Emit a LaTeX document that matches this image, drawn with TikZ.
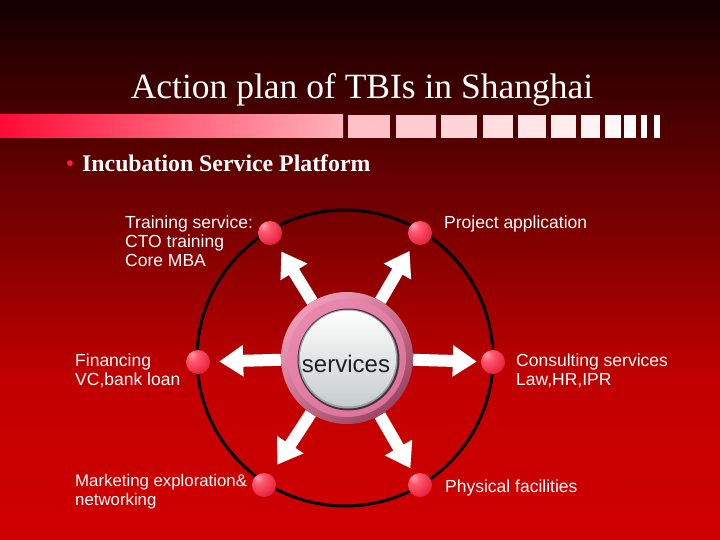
\documentclass[tikz,border=0pt]{standalone}
\usepackage{fontspec}
\setmainfont{Liberation Serif}
\setsansfont{Liberation Sans}
\usetikzlibrary{arrows.meta}
\definecolor{bgtop}{HTML}{140000}
\definecolor{bgmid}{HTML}{C20000}
\definecolor{bgbot}{HTML}{D00000}
\definecolor{barred}{HTML}{FF0A35}
\definecolor{barpink}{HTML}{FFB2BA}
\definecolor{bullred}{HTML}{FF2040}
\definecolor{ringlight}{HTML}{F29CBC}
\definecolor{ringdark}{HTML}{9C4464}
\definecolor{ringmid}{HTML}{DC7399}
\definecolor{ringmidlight}{HTML}{E889AC}
\definecolor{rimdark}{HTML}{4A2E3C}
\definecolor{rimgray}{HTML}{9CA2A2}
\definecolor{innergray}{HTML}{C6CCCC}
\definecolor{txtdark}{HTML}{202020}
\definecolor{ballhi}{HTML}{FFA0AE}
\definecolor{ballmid}{HTML}{FF5870}
\definecolor{balledge}{HTML}{E8223E}
\definecolor{ballrim}{HTML}{D81A34}
\pgfdeclareradialshading{redball}{\pgfpoint{-14bp}{16bp}}{%
  color(0bp)=(ballhi);
  color(12bp)=(ballmid);
  color(36bp)=(balledge);
  color(62bp)=(ballrim);
  color(100bp)=(ballrim)}
\begin{document}
\begin{tikzpicture}[x=1pt,y=-1pt,
  ball/.style={circle, minimum size=24pt, inner sep=0pt, shading=redball},
  lbl/.style={anchor=north west, inner sep=0pt, align=left, text=white,
    font=\sffamily\fontsize{17.5}{19}\selectfont},
  warrow/.style={draw=white, line width=12pt,
    -{Triangle[length=24pt,width=30pt]}}]
\useasboundingbox (0,0) rectangle (720,540);
% background
\shade[top color=bgtop, bottom color=bgmid] (0,0) rectangle (720,381);
\shade[top color=bgmid, bottom color=bgbot] (0,380) rectangle (720,540);
% decorative bar
\shade[left color=barred, right color=barpink] (0,115) rectangle (343,138);
\foreach \a/\b/\k in {348/390/20,396/436/32,441/477/44,483/513/56,518/546/66,
  551/576/76,581/600/84,605/621/90,624/636/95,641/647/100,654/660/100}{
  \fill[white!\k!barpink] (\a,115) rectangle (\b,138);
}
% title
\node[anchor=base, text=white, font=\fontsize{35.5}{40}\selectfont, inner sep=0pt]
  (title) at (362,99) {Action plan of TBIs in Shanghai};
\node[anchor=base, text=bullred, font=\fontsize{24}{28}\selectfont, inner sep=0pt]
  (bul) at (70,172) {\textbullet};
\node[anchor=base west, text=white, font=\bfseries\fontsize{23.8}{28}\selectfont, inner sep=0pt]
  (sub) at (82,172) {Incubation Service Platform};
% big circle
\node[circle, draw=black, line width=3pt, minimum size=296pt, inner sep=0pt]
  (ring) at (345,358) {};
% balls
\node[ball] (b1) at (270,233) {};
\node[ball] (b2) at (420,233) {};
\node[ball] (b3) at (198,362) {};
\node[ball] (b4) at (493,362) {};
\node[ball] (b5) at (264,485) {};
\node[ball] (b6) at (420,485) {};
% central button
\node[circle, minimum size=132pt, inner sep=0pt, top color=ringlight,
  bottom color=ringdark, shading angle=40] (svc) at (347,358) {};
\shade[top color=ringmidlight, bottom color=ringmid, shading angle=40]
  (347,358) circle[radius=59];
\fill[rimdark] (348.5,359.5) circle[radius=51];
\fill[rimgray] (348,359) circle[radius=49.5];
\shade[top color=white, bottom color=innergray] (348,358.5) circle[radius=48];
\node[anchor=base, text=txtdark, font=\sffamily\fontsize{24}{28}\selectfont, inner sep=0pt]
  (svctxt) at (346,372) {services};
% arrows
\draw[warrow, shorten >=9.5pt] (svc) -- (b1);
\draw[warrow, shorten >=8.5pt] (svc) -- (b2);
\draw[warrow, shorten >=9pt] (svc) -- (b3);
\draw[warrow, shorten >=4pt] (svc) -- (b4);
\draw[warrow, shorten >=12pt] (svc) -- (b5);
\draw[warrow, shorten >=7pt] (svc) -- (b6);
% labels
\node[lbl] (l1) at (125,215.5) {Training service:\\CTO training\\Core MBA};
\node[lbl] (l2) at (444,215.5) {Project application};
\node[lbl] (l3) at (75,353.5) {Financing\\VC,bank loan};
\node[lbl] (l4) at (516,354) {Consulting services\\Law,HR,IPR};
\node[lbl, font=\sffamily\fontsize{16.8}{19}\selectfont] (l5) at (75,474.5) {Marketing exploration\&\\networking};
\node[lbl] (l6) at (445,480) {Physical facilities};
\end{tikzpicture}
\end{document}
